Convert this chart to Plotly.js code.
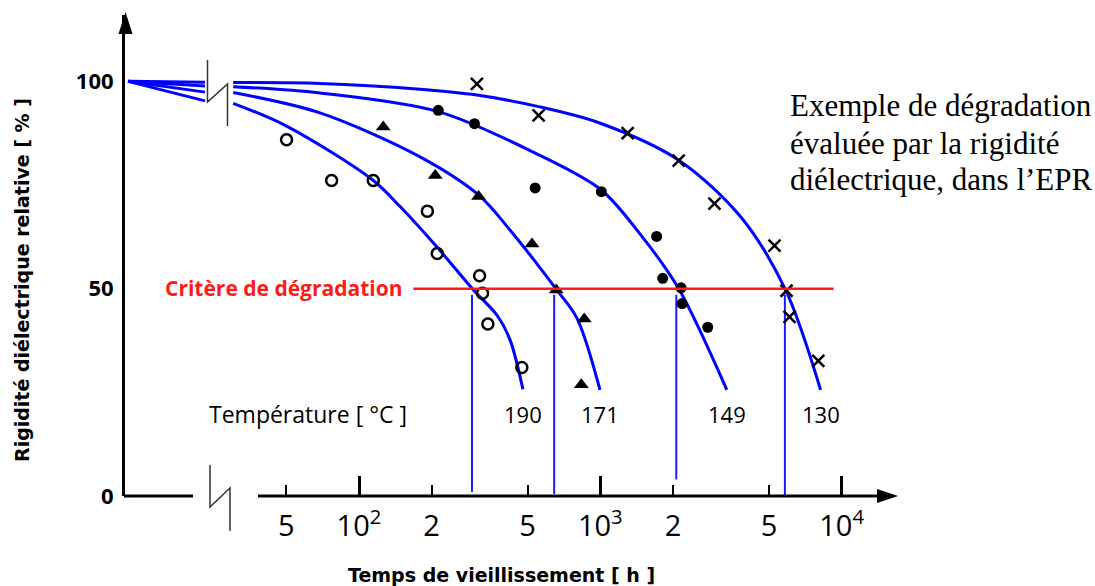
<!DOCTYPE html>
<html>
<head>
<meta charset="utf-8">
<script src="https://cdn.plot.ly/plotly-3.0.1.min.js"></script>
<style>html,body{margin:0;padding:0;background:#fff;}#chart{width:1095px;height:586px;}</style>
</head>
<body>
<div id="chart"></div>
<script>
// ---------------- DATA ----------------
const temperatures = ['190', '171', '149', '130'];

// Measured points (ageing time [h], relative dielectric strength [%])
const t190 = [50.1, 77.0, 114.6, 192, 211, 316, 325, 342, 473];
const r190 = [85.9, 76.1, 76.1, 68.7, 58.5, 53.1, 48.9, 41.5, 31.0];
const t171 = [126, 207, 313, 521, 657, 858, 834];
const r171 = [89.0, 77.3, 72.2, 60.8, 49.7, 42.7, 26.8];
const t149 = [213, 301, 537, 1010, 1712, 1814, 2162, 2183, 2787];
const r149 = [93.0, 89.8, 74.3, 73.4, 62.6, 52.5, 50.2, 46.4, 40.7];
const t130 = [308, 555, 1298, 2113, 2972, 5272, 5912, 6085, 8005];
const r130 = [99.4, 91.8, 87.5, 80.9, 70.5, 60.4, 49.5, 43.2, 32.6];

// Fitted curves, points
const fitT190 = [30.1, 50.1, 114, 148, 210, 298, 373, 423, 478];
const fitR190 = [94.7, 89.2, 76.2, 69.8, 60.1, 49.7, 43.6, 37.6, 25.7];
const fitT171 = [30.1, 68.9, 179, 313, 423, 660, 800, 997];
const fitR171 = [97.3, 92.4, 81.8, 72.6, 64.1, 49.7, 42.9, 25.6];
const fitT149 = [30.1, 68.9, 213, 537, 1009, 1460, 2108, 3344];
const fitR149 = [98.7, 97.2, 92.7, 82.7, 73.8, 63.2, 50.1, 25.6];
const fitT130 = [30.1, 68.9, 179, 308, 555, 1000, 2113, 3808, 5858, 8185];
const fitR130 = [99.7, 99.5, 98.1, 96.7, 93.9, 89.9, 81.0, 67.4, 49.7, 25.6];

// Segment before the axis break (t = 0 .. break)
const preBreakTime = [0, 30];
const preBreakStart = 100;
const preBreakEnd = [95.3, 97.4, 98.9, 99.8];   // 190, 171, 149, 130

// Degradation criterion and end-of-life times
const criterionLevel = 50;
const criterionTime = [168, 9270];
const lifeTimes = [294, 644, 2065, 5821];
const lifeLineTop = [48.5, 48.5, 48.5, 48.5];
const lifeLineBottom = [1, 0.5, 4, 0];

// Tick labels
const majorTickVals = [100, 1000, 10000];
const majorTickText = ['10<sup>2</sup>', '10<sup>3</sup>', '10<sup>4</sup>'];
const minorTickVals = [50, 200, 500, 2000, 5000];
const minorTickText = ['5', '2', '5', '2', '5'];
const yTickVals = [0, 50, 100];

// ---------------- LAYOUT HELPERS ----------------
const W = 1095, Hh = 586;
const mL = 125, mR = 197, mT = 15, mB = 90;
const PW = W - mL - mR, PH = Hh - mT - mB;
const px = x => (x - mL) / PW;
const py = y => (Hh - mB - y) / PH;

const BLUE = '#0000ff';
const tickFontFam = 'Open Sans, DejaVu Sans, sans-serif';

const fitT = [fitT190, fitT171, fitT149, fitT130];
const fitR = [fitR190, fitR171, fitR149, fitR130];
const ptsT = [t190, t171, t149, t130];
const ptsR = [r190, r171, r149, r130];
const symbols = [
  {symbol: 'circle-open', size: 11, line: {width: 2.5, color: '#000'}, color: '#000'},
  {symbol: 'triangle-up', size: 13, color: '#000'},
  {symbol: 'circle', size: 11, color: '#000'},
  {symbol: 'x-thin-open', size: 12, line: {width: 2.5, color: '#000'}, color: '#000'}
];

const traces = [];
temperatures.forEach((tmp, i) => {
  traces.push({x: preBreakTime, y: [preBreakStart, preBreakEnd[i]], xaxis: 'x', yaxis: 'y',
    mode: 'lines', line: {color: BLUE, width: 3}, hoverinfo: 'skip', name: tmp});
});
temperatures.forEach((tmp, i) => {
  traces.push({x: fitT[i], y: fitR[i], xaxis: 'x2', yaxis: 'y', mode: 'lines',
    line: {color: BLUE, width: 3, shape: 'spline', smoothing: 0.9}, name: tmp + ' °C'});
});
lifeTimes.forEach((lt, i) => {
  traces.push({x: [lt, lt], y: [lifeLineTop[i], lifeLineBottom[i]], xaxis: 'x2', yaxis: 'y',
    mode: 'lines', line: {color: '#1a1aff', width: 2}, hoverinfo: 'skip'});
});
traces.push({x: criterionTime, y: [criterionLevel, criterionLevel], xaxis: 'x3', yaxis: 'y',
  mode: 'lines', line: {color: '#ff1a1a', width: 2.5}, hoverinfo: 'skip'});
temperatures.forEach((tmp, i) => {
  traces.push({x: ptsT[i], y: ptsR[i], xaxis: 'x2', yaxis: 'y', mode: 'markers',
    marker: symbols[i], cliponaxis: false, name: tmp + ' °C'});
});

const d2 = px(228);
const logMin = 2 - 131 / 241.3, logMax = 2 + 539 / 241.3;
const preScale = 77 / 30;
const preMin = -3 / preScale, preMax = preMin + (210 - mL) / preScale;

const shapes = [];
const deco = {color: '#000', width: 3};
shapes.push({type: 'line', xref: 'paper', yref: 'paper', x0: px(124), x1: px(193), y0: py(496), y1: py(496), line: deco});
shapes.push({type: 'line', xref: 'paper', yref: 'paper', x0: px(258), x1: px(884), y0: py(496), y1: py(496), line: deco});
shapes.push({type: 'path', xref: 'paper', yref: 'paper', fillcolor: '#000', line: {width: 0},
  path: `M ${px(898)} ${py(496)} L ${px(877)} ${py(489)} L ${px(877)} ${py(503)} Z`});
shapes.push({type: 'path', xref: 'paper', yref: 'paper', fillcolor: '#000', line: {width: 0},
  path: `M ${px(125.5)} ${py(12)} L ${px(118.5)} ${py(34)} L ${px(132.5)} ${py(34)} Z`});
const brk = {color: '#333', width: 1.5};
function breakPath(xl, xr, yTop, yLow, yDiag, yBot) {
  return `M ${px(xl)} ${py(yTop)} L ${px(xl)} ${py(yLow)} L ${px(xr)} ${py(yDiag)} L ${px(xr)} ${py(yBot)}`;
}
shapes.push({type: 'path', xref: 'paper', yref: 'paper', line: brk, path: breakPath(207.5, 227.5, 60, 102, 84, 126)});
shapes.push({type: 'path', xref: 'paper', yref: 'paper', line: brk, path: breakPath(210, 230, 465, 507, 488, 531)});

const sansFont = (size, weight, color) => ({family: 'Open Sans, DejaVu Sans, sans-serif', size: size, weight: weight, color: color || '#000'});
const titleFont = {family: 'DejaVu Sans, sans-serif', size: 19, weight: 'bold', color: '#000'};
const annotations = [];
annotations.push({xref: 'paper', yref: 'paper', x: px(404), y: py(288), xanchor: 'right', yanchor: 'middle',
  text: 'Critère de dégradation', showarrow: false, font: sansFont(21, 'bold', '#ff1a1a')});
annotations.push({xref: 'paper', yref: 'paper', x: px(308), y: py(414), xanchor: 'center', yanchor: 'middle',
  text: 'Température [ °C ]', showarrow: false, font: sansFont(23, 'normal')});
temperatures.forEach((tmp, i) => {
  const tEnd = fitT[i][fitT[i].length - 1];
  annotations.push({xref: 'x2', yref: 'paper', x: Math.log10(tEnd), y: py(414), xanchor: 'center', yanchor: 'middle',
    text: tmp, showarrow: false, font: sansFont(22, 'normal')});
});
annotations.push({xref: 'paper', yref: 'paper', x: px(501), y: py(575), xanchor: 'center', yanchor: 'middle',
  text: 'Temps de vieillissement [ h ]', showarrow: false, font: titleFont});
annotations.push({xref: 'paper', yref: 'paper', x: px(22), y: py(280), xanchor: 'center', yanchor: 'middle',
  text: 'Rigidité diélectrique relative [ % ]', textangle: -90, showarrow: false, font: titleFont});
const sideLines = ['Exemple de dégradation', 'évaluée par la rigidité', 'diélectrique, dans l’EPR'];
const sideY = [106, 143, 180];
sideLines.forEach((s, i) => {
  annotations.push({xref: 'paper', yref: 'paper', x: px(788), y: py(sideY[i]), xanchor: 'left', yanchor: 'middle',
    text: s, showarrow: false, font: {family: 'Liberation Serif, Times New Roman, serif', size: 31, color: '#000'}});
});

const layout = {
  width: W, height: Hh,
  margin: {l: mL, r: mR, t: mT, b: mB, pad: 0},
  paper_bgcolor: '#fff', plot_bgcolor: '#fff',
  showlegend: false,
  xaxis: {domain: [0, px(210)], range: [preMin, preMax], showline: false, showgrid: false, zeroline: false,
    showticklabels: false, ticks: '', anchor: 'y', fixedrange: true},
  xaxis2: {domain: [d2, 1], type: 'log', range: [logMin, logMax], anchor: 'y', showline: false,
    showgrid: false, zeroline: false, tickmode: 'array', tickvals: majorTickVals, ticktext: majorTickText,
    ticks: 'inside', ticklen: 20, tickwidth: 3, tickcolor: '#000', ticklabelstandoff: 10,
    tickfont: {family: tickFontFam, size: 29, color: '#000'}},
  xaxis3: {overlaying: 'x2', type: 'log', range: [logMin, logMax], anchor: 'y', showline: false,
    showgrid: false, zeroline: false, tickmode: 'array', tickvals: minorTickVals, ticktext: minorTickText,
    ticks: 'inside', ticklen: 11, tickwidth: 2, tickcolor: '#000', ticklabelstandoff: 10,
    tickfont: {family: tickFontFam, size: 29, color: '#000'}},
  yaxis: {domain: [0, 1], range: [0, 116], anchor: 'x', showline: true, linewidth: 3, linecolor: '#000',
    showgrid: false, zeroline: false, tickmode: 'array', tickvals: yTickVals, ticks: '',
    ticklabelstandoff: 4, tickfont: {family: tickFontFam, size: 22, weight: 'bold', color: '#000'}},
  shapes: shapes,
  annotations: annotations
};

Plotly.newPlot('chart', traces, layout, {displayModeBar: false, staticPlot: true});
</script>
</body>
</html>
